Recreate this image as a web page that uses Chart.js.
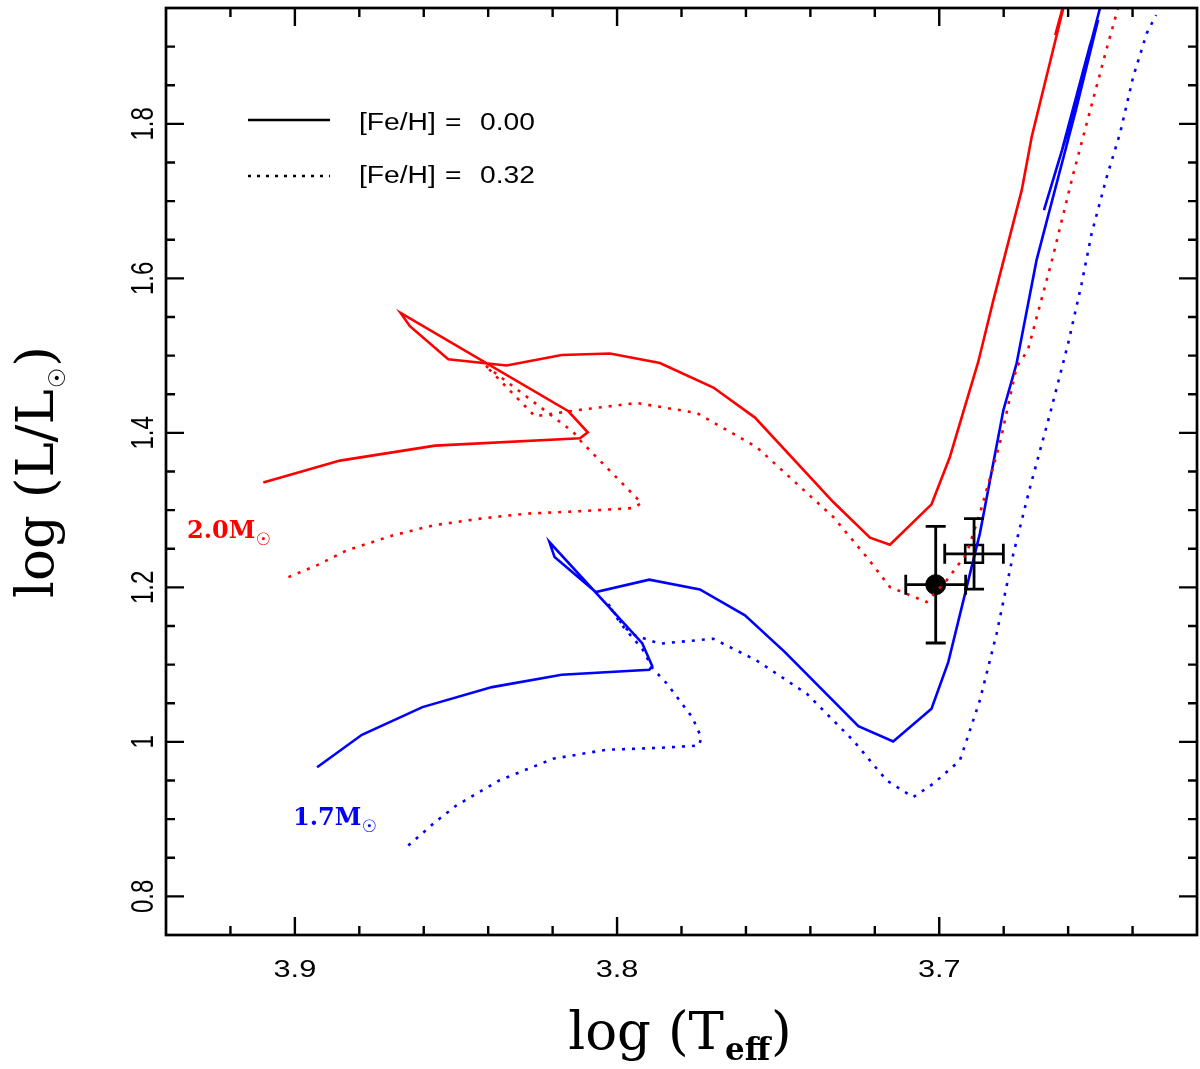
<!DOCTYPE html>
<html>
<head>
<meta charset="utf-8">
<script src="https://cdn.jsdelivr.net/npm/chart.js@4.4.1/dist/chart.umd.min.js"></script>
<style>
  body { margin: 0; background: #fff; }
</style>
</head>
<body>
<canvas id="hrChart" width="1200" height="1069"></canvas>
<script>
//////////////////////////////// data (log Teff, log L/Lsun)

// 2.0 Msun, [Fe/H] = 0.00
const red00T = [3.9098, 3.8860, 3.8565, 3.8115, 3.8091, 3.8151, 3.8672, 3.8643, 3.8524, 3.8343, 3.8172, 3.8022, 3.7867, 3.7701, 3.7572, 3.7329, 3.7215, 3.7153, 3.7024, 3.6967, 3.6879, 3.6832, 3.6744, 3.6713, 3.6615, 3.6640, 3.6606];
const red00L = [1.3356, 1.3641, 1.3835, 1.3930, 1.4008, 1.4280, 1.5553, 1.5381, 1.4953, 1.4872, 1.5009, 1.5027, 1.4905, 1.4587, 1.4198, 1.3105, 1.2644, 1.2553, 1.3075, 1.3688, 1.4918, 1.5718, 1.7142, 1.7833, 1.9496, 1.915, 1.967];

// 2.0 Msun, [Fe/H] = 0.32
const red32T = [3.9020, 3.8932, 3.8839, 3.8695, 3.8570, 3.8425, 3.8281, 3.8125, 3.7950, 3.7924, 3.8110, 3.8136, 3.8410, 3.8384, 3.8255, 3.8125, 3.7939, 3.7753, 3.7567, 3.7329, 3.7225, 3.7153, 3.7039, 3.6977, 3.6915, 3.6874, 3.6812, 3.6760, 3.6725, 3.6650, 3.6585, 3.6523, 3.6479, 3.6445, 3.6436];
const red32L = [1.2133, 1.2285, 1.2479, 1.2674, 1.2803, 1.2890, 1.2955, 1.2984, 1.3027, 1.3092, 1.3882, 1.4012, 1.4876, 1.4768, 1.4215, 1.4293, 1.4387, 1.4258, 1.3817, 1.2911, 1.2392, 1.2004, 1.1810, 1.2091, 1.2436, 1.2955, 1.3861, 1.4854, 1.5070, 1.6236, 1.7337, 1.8308, 1.8995, 1.9500, 1.963];

// 1.7 Msun, [Fe/H] = 0.00
const blue00T = [3.8931, 3.8792, 3.8604, 3.8388, 3.8172, 3.7900, 3.7891, 3.7922, 3.8210, 3.8194, 3.8066, 3.7900, 3.7743, 3.7603, 3.7479, 3.7251, 3.7143, 3.7024, 3.6972, 3.6925, 3.6874, 3.6801, 3.6760, 3.6698, 3.6667, 3.6576, 3.6507, 3.6532, 3.6619, 3.6675, 3.6600, 3.6501, 3.6495];
const blue00L = [0.9672, 1.0092, 1.0450, 1.0709, 1.0869, 1.0934, 1.0981, 1.1278, 1.2587, 1.2392, 1.1939, 1.2100, 1.1974, 1.1637, 1.1162, 1.0203, 1.0005, 1.0429, 1.1032, 1.1832, 1.2696, 1.4293, 1.4898, 1.6236, 1.6732, 1.8179, 1.9345, 1.9021, 1.7661, 1.6883, 1.7920, 1.9500, 1.960];

// 1.7 Msun, [Fe/H] = 0.32
const blue32T = [3.8648, 3.8565, 3.8499, 3.8366, 3.8199, 3.8033, 3.7867, 3.7745, 3.7739, 3.7767, 3.7845, 3.7889, 3.7922, 3.7989, 3.8028, 3.7978, 3.7944, 3.7867, 3.7701, 3.7567, 3.7411, 3.7267, 3.7163, 3.7081, 3.7019, 3.6936, 3.6874, 3.6822, 3.6770, 3.6718, 3.6656, 3.6600, 3.6558, 3.6527, 3.6480, 3.6439, 3.6398, 3.6356, 3.6327];
const blue32L = [0.8658, 0.8960, 0.9176, 0.9500, 0.9781, 0.9898, 0.9923, 0.9953, 1.0061, 1.0320, 1.0753, 1.0947, 1.1206, 1.1530, 1.1789, 1.1486, 1.1378, 1.1271, 1.1335, 1.1054, 1.0623, 1.0018, 0.9500, 0.9284, 0.9457, 0.9759, 1.0536, 1.1400, 1.2436, 1.3299, 1.4250, 1.5157, 1.5934, 1.6582, 1.7315, 1.7877, 1.8610, 1.9172, 1.9409];

// the star: filled circle and open square, with errors
const starT = [3.7011, 3.6892];
const starL = [1.2035, 1.2434];
const starErrT = [0.0093, 0.0091];
const starErrL = [0.0755, 0.0457];

// ticks
const xTickLabels = ["3.9", "3.8", "3.7"];
const yTickLabels = ["0.8", "1", "1.2", "1.4", "1.6", "1.8"];
const legendLabels = ["[Fe/H] = 0.00", "[Fe/H] = 0.32"];

const xMin = 3.62, xMax = 3.94;
const yMin = 0.75, yMax = 1.95;

//////////////////////////////// helpers

const toPts = (xs, ys) => xs.map((x, i) => ({ x: x, y: ys[i] }));

function drawText(ctx, s, x, y, o) {
	ctx.save();
	ctx.translate(x, y);
	ctx.scale(o.sx || 1, 1);
	if (o.rot) ctx.rotate(o.rot);
	ctx.font = o.font;
	ctx.fillStyle = o.color || "#000";
	ctx.textAlign = o.align || "left";
	ctx.textBaseline = o.baseline || "alphabetic";
	ctx.fillText(s, 0, 0);
	ctx.restore();
}

//////////////////////////////// error bars

const errorBars = {
	id: "errorBars",
	afterDatasetsDraw(chart) {
		const { ctx, scales } = chart;
		const cap = 10;
		ctx.save();
		ctx.strokeStyle = "#000";
		ctx.lineWidth = 2.8;
		starT.forEach((t, i) => {
			const px = scales.x.getPixelForValue(t);
			const py = scales.y.getPixelForValue(starL[i]);
			const xa = scales.x.getPixelForValue(t + starErrT[i]);
			const xb = scales.x.getPixelForValue(t - starErrT[i]);
			const ya = scales.y.getPixelForValue(starL[i] + starErrL[i]);
			const yb = scales.y.getPixelForValue(starL[i] - starErrL[i]);
			ctx.beginPath();
			ctx.moveTo(xa, py); ctx.lineTo(xb, py);
			ctx.moveTo(xa, py - cap); ctx.lineTo(xa, py + cap);
			ctx.moveTo(xb, py - cap); ctx.lineTo(xb, py + cap);
			ctx.moveTo(px, ya); ctx.lineTo(px, yb);
			ctx.moveTo(px - cap, ya); ctx.lineTo(px + cap, ya);
			ctx.moveTo(px - cap, yb); ctx.lineTo(px + cap, yb);
			ctx.stroke();
		});
		ctx.restore();
	},
};

//////////////////////////////// frame, ticks, labels, legend

const frameAndText = {
	id: "frameAndText",
	afterDraw(chart) {
		const { ctx, chartArea: a, scales } = chart;
		const sx = scales.x, sy = scales.y;
		ctx.save();
		ctx.strokeStyle = "#000";
		ctx.lineWidth = 2.7;
		ctx.strokeRect(a.left, a.top, a.right - a.left, a.bottom - a.top);

		ctx.lineWidth = 2.4;
		ctx.beginPath();
		for (let k = 181; k <= 197; k++) {
			const v = k / 50;
			if (v <= xMin || v >= xMax) continue;
			const len = k % 5 === 0 ? 18 : 9;
			const px = sx.getPixelForValue(v);
			ctx.moveTo(px, a.bottom); ctx.lineTo(px, a.bottom - len);
			ctx.moveTo(px, a.top); ctx.lineTo(px, a.top + len);
		}
		for (let k = 15; k <= 39; k++) {
			const v = k / 20;
			if (v <= yMin || v >= yMax) continue;
			const len = k % 4 === 0 ? 18 : 9;
			const py = sy.getPixelForValue(v);
			ctx.moveTo(a.left, py); ctx.lineTo(a.left + len, py);
			ctx.moveTo(a.right, py); ctx.lineTo(a.right - len, py);
		}
		ctx.stroke();

		// tick labels
		const tickFont = "24px 'Liberation Sans', Arial, sans-serif";
		xTickLabels.forEach((lab) => {
			drawText(ctx, lab, sx.getPixelForValue(parseFloat(lab)), 977, { font: tickFont, sx: 1.28, align: "center" });
		});
		yTickLabels.forEach((lab) => {
			drawText(ctx, lab, 153, sy.getPixelForValue(parseFloat(lab)), { font: tickFont, sx: 1.3, rot: -Math.PI / 2, align: "center" });
		});

		// x title: log (T_eff)
		const serif = "53px 'DejaVu Serif', serif";
		const subFont = "bold 31px 'DejaVu Serif', serif";
		ctx.font = serif;
		const w1 = ctx.measureText("log (T").width;
		const w3 = ctx.measureText(")").width;
		ctx.font = subFont;
		const w2 = ctx.measureText("eff").width;
		let x0 = 680 - (w1 + w2 + w3 + 2) / 2;
		drawText(ctx, "log (T", x0, 1049, { font: serif });
		drawText(ctx, "eff", x0 + w1 + 1, 1060, { font: subFont });
		drawText(ctx, ")", x0 + w1 + w2 + 2, 1049, { font: serif });

		// y title: log (L/L_sun), rotated
		ctx.font = serif;
		const v1 = ctx.measureText("log (L/L").width;
		const v3 = ctx.measureText(")").width;
		const sunFont = "23px 'DejaVu Sans', sans-serif";
		ctx.font = sunFont;
		const v2 = ctx.measureText("\u2609").width;
		const tot = v1 + v2 + v3 + 2;
		ctx.save();
		ctx.translate(53, 472);
		ctx.rotate(-Math.PI / 2);
		ctx.fillStyle = "#000";
		ctx.font = serif;
		ctx.textBaseline = "alphabetic";
		ctx.fillText("log (L/L", -tot / 2, 0);
		ctx.font = sunFont;
		ctx.textBaseline = "middle";
		ctx.fillText("\u2609", -tot / 2 + v1 + 1, 6);
		ctx.font = serif;
		ctx.textBaseline = "alphabetic";
		ctx.fillText(")", -tot / 2 + v1 + v2 + 2, 0);
		ctx.restore();

		// legend
		const legFont = "23.5px 'Liberation Sans', Arial, sans-serif";
		const rows = [129.5, 183];
		ctx.lineWidth = 2.5;
		ctx.beginPath();
		ctx.moveTo(248, 120); ctx.lineTo(330, 120);
		ctx.stroke();
		ctx.setLineDash([3, 6]);
		ctx.beginPath();
		ctx.moveTo(248, 176); ctx.lineTo(330, 176);
		ctx.stroke();
		ctx.setLineDash([]);
		legendLabels.forEach((lab, i) => {
			const parts = lab.split(" = ");
			drawText(ctx, parts[0], 359, rows[i], { font: legFont, sx: 1.2 });
			drawText(ctx, "=", 445, rows[i], { font: legFont, sx: 1.2 });
			drawText(ctx, parts[1], 480, rows[i], { font: legFont, sx: 1.2 });
		});

		// mass labels
		const massFont = "bold 24px 'DejaVu Serif', serif";
		const massLabels = [["2.0M", 187, 538, "#ff0000"], ["1.7M", 293, 825, "#0000ff"]];
		massLabels.forEach(([s, x, y, c]) => {
			ctx.font = massFont;
			const w = ctx.measureText(s).width;
			drawText(ctx, s, x, y, { font: massFont, color: c });
			drawText(ctx, "\u2609", x + w + 8, y + 3, { font: "17px 'DejaVu Sans', sans-serif", color: c, align: "center", baseline: "middle" });
		});
		ctx.restore();
	},
};

//////////////////////////////// chart

const lineSet = (xs, ys, color, dotted) => ({
	data: toPts(xs, ys),
	showLine: true,
	borderColor: color,
	backgroundColor: color,
	borderWidth: 2.6,
	borderDash: dotted ? [3, 7] : [],
	borderCapStyle: "butt",
	pointRadius: 0,
	tension: 0,
	clip: 0,
});

new Chart(document.getElementById("hrChart"), {
	type: "scatter",
	data: {
		datasets: [
			lineSet(red00T, red00L, "#ff0000", false),
			lineSet(red32T, red32L, "#ff0000", true),
			lineSet(blue00T, blue00L, "#0000ff", false),
			lineSet(blue32T, blue32L, "#0000ff", true),
			{
				data: toPts(starT.slice(0, 1), starL.slice(0, 1)),
				pointStyle: "circle",
				pointRadius: 10,
				backgroundColor: "#000",
				borderColor: "#000",
				borderWidth: 1,
			},
			{
				data: toPts(starT.slice(1), starL.slice(1)),
				pointStyle: "rect",
				pointRadius: 12.5,
				backgroundColor: "rgba(0,0,0,0)",
				borderColor: "#000",
				borderWidth: 2.6,
			},
		],
	},
	options: {
		responsive: false,
		devicePixelRatio: 1,
		animation: false,
		events: [],
		layout: {
			autoPadding: false,
			padding: { left: 166, top: 8, right: 3, bottom: 134 },
		},
		scales: {
			x: { type: "linear", min: xMin, max: xMax, reverse: true, display: false },
			y: { type: "linear", min: yMin, max: yMax, display: false },
		},
		plugins: {
			legend: { display: false },
			tooltip: { enabled: false },
		},
	},
	plugins: [errorBars, frameAndText],
});
</script>
</body>
</html>
